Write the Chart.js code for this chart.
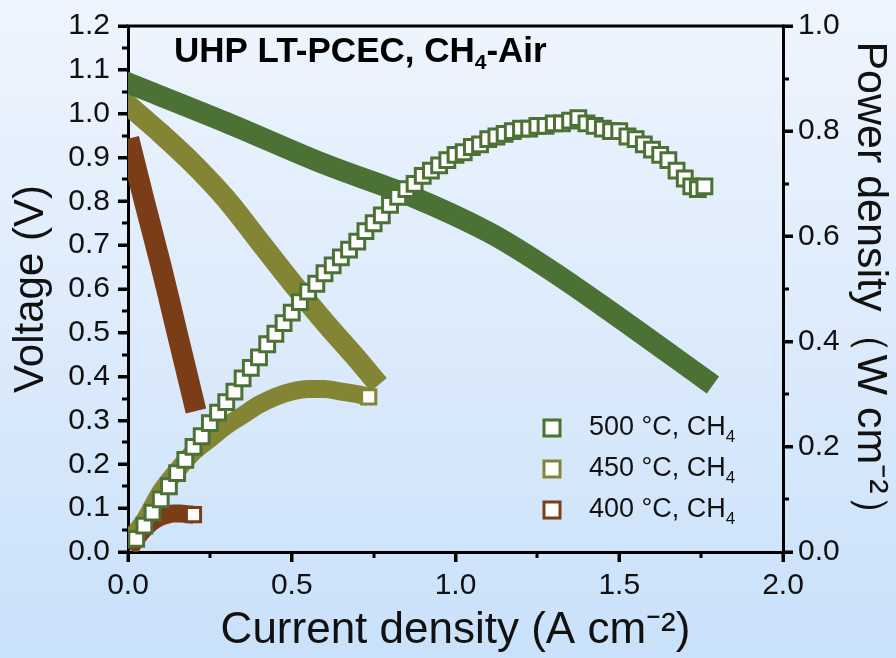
<!DOCTYPE html>
<html>
<head>
<meta charset="utf-8">
<script src="https://cdn.jsdelivr.net/npm/chart.js@4.4.0/dist/chart.umd.min.js"></script>
<style>
  html, body { margin: 0; padding: 0; }
  body { position: relative; width: 896px; height: 658px; background: linear-gradient(to bottom, #eef5fe 0%, #dbeafb 55%, #c9e1fa 100%); }
  canvas { display: block; }
  #marks { position: absolute; left: 0; top: 0; pointer-events: none; }
</style>
</head>
<body>
<canvas id="chart" width="896" height="658"></canvas>
<canvas id="marks" width="896" height="658"></canvas>
<script>
// current density (A cm-2) and voltage (V)
var jV500 = [0, 0.3, 0.6, 0.87, 1.1, 1.28, 1.48, 1.76];
var V500  = [1.07, 0.98, 0.885, 0.81, 0.73, 0.648, 0.545, 0.395];
var jV450 = [0, 0.1, 0.2, 0.3, 0.4, 0.5, 0.6, 0.7, 0.745];
var V450  = [1.02, 0.955, 0.885, 0.805, 0.71, 0.615, 0.525, 0.44, 0.40];
var jV400 = [0.01, 0.05, 0.1, 0.15, 0.2];
var V400  = [0.92, 0.80, 0.655, 0.50, 0.345];

// power density (W cm-2)
var jP500 = [0.025, 0.05, 0.075, 0.1, 0.125, 0.15, 0.175, 0.2, 0.225, 0.25, 0.275, 0.3, 0.325, 0.35, 0.375, 0.4,
  0.425, 0.45, 0.475, 0.5, 0.525, 0.55, 0.575, 0.6, 0.625, 0.65, 0.675, 0.7, 0.725, 0.75, 0.775, 0.8, 0.825, 0.85,
  0.875, 0.9, 0.925, 0.95, 0.975, 1.0, 1.025, 1.05, 1.075, 1.1, 1.125, 1.15, 1.175, 1.2, 1.225, 1.25, 1.275, 1.3,
  1.325, 1.35, 1.375, 1.4, 1.425, 1.45, 1.475, 1.5, 1.525, 1.55, 1.575, 1.6, 1.625, 1.65, 1.675, 1.7, 1.72, 1.74, 1.76];
var P500 = [0.025, 0.05, 0.075, 0.10, 0.125, 0.15, 0.175, 0.20, 0.22, 0.245, 0.265, 0.285, 0.305, 0.33, 0.35, 0.37,
  0.395, 0.415, 0.435, 0.455, 0.475, 0.495, 0.51, 0.53, 0.545, 0.56, 0.575, 0.59, 0.61, 0.625, 0.64, 0.66, 0.675, 0.69,
  0.70, 0.715, 0.725, 0.735, 0.745, 0.755, 0.76, 0.77, 0.775, 0.785, 0.79, 0.795, 0.80, 0.805, 0.805, 0.81, 0.81, 0.815,
  0.815, 0.82, 0.825, 0.815, 0.81, 0.805, 0.80, 0.80, 0.79, 0.785, 0.775, 0.765, 0.755, 0.745, 0.725, 0.71, 0.695, 0.69, 0.695];
var jP450 = [0, 0.05, 0.1, 0.15, 0.2, 0.25, 0.3, 0.35, 0.4, 0.45, 0.5, 0.55, 0.6, 0.65, 0.7, 0.735];
var P450  = [0.02, 0.06, 0.115, 0.155, 0.19, 0.215, 0.24, 0.26, 0.28, 0.295, 0.305, 0.31, 0.31, 0.305, 0.30, 0.295];
var jP400 = [0.005, 0.02, 0.04, 0.06, 0.08, 0.10, 0.12, 0.14, 0.16, 0.18, 0.20];
var P400  = [0.005, 0.02, 0.037, 0.05, 0.06, 0.067, 0.071, 0.073, 0.073, 0.072, 0.071];

var seriesNames = ['500 °C, CH', '450 °C, CH', '400 °C, CH'];
var seriesColors = ['#4b7135', '#838535', '#7b3c18'];

var xMajor = [0, 0.5, 1.0, 1.5, 2.0];
var xMinor = [0.25, 0.75, 1.25, 1.75];
var yMajor = [0, 0.1, 0.2, 0.3, 0.4, 0.5, 0.6, 0.7, 0.8, 0.9, 1.0, 1.1, 1.2];
var yMinor = [0.05, 0.15, 0.25, 0.35, 0.45, 0.55, 0.65, 0.75, 0.85, 0.95, 1.05, 1.15];
var y2Major = [0, 0.2, 0.4, 0.6, 0.8, 1.0];
var y2Minor = [0.1, 0.3, 0.5, 0.7, 0.9];

var FONT = "'Liberation Sans', Arial, Helvetica, sans-serif";

function pts(xs, ys) {
  return xs.map(function (x, i) { return { x: x, y: ys[i] }; });
}
function lastOnly(n, r) {
  var a = [];
  for (var i = 0; i < n; i++) a.push(i === n - 1 ? r : 0);
  return a;
}

var vLine = function (label, xs, ys, color, order) {
  return {
    label: label, data: pts(xs, ys), yAxisID: 'y', order: order, showLine: true,
    borderColor: color, borderWidth: 21, tension: 0.35, pointRadius: 0,
    borderCapStyle: 'square', borderJoinStyle: 'round', clip: 0
  };
};

var bandPower = function (label, xs, ys, color, order) {
  return {
    label: label, data: pts(xs, ys), yAxisID: 'y2', order: order, showLine: true,
    borderColor: color, borderWidth: 18, cubicInterpolationMode: 'monotone', borderCapStyle: 'butt',
    pointStyle: 'rect', pointRadius: lastOnly(xs.length, 10), pointBorderWidth: 3,
    pointBorderColor: color, pointBackgroundColor: '#ffffff', clip: 0
  };
};

var datasets = [
  {
    label: 'P500', data: pts(jP500, P500), yAxisID: 'y2', order: 0, showLine: false,
    pointStyle: 'rect', pointRadius: 10.5, pointBorderWidth: 3,
    pointBorderColor: seriesColors[0], pointBackgroundColor: '#ffffff', clip: 0
  },
  bandPower('P450', jP450, P450, seriesColors[1], 1),
  bandPower('P400', jP400, P400, seriesColors[2], 2),
  vLine('V500', jV500, V500, seriesColors[0], 3),
  vLine('V450', jV450, V450, seriesColors[1], 4),
  vLine('V400', jV400, V400, seriesColors[2], 5)
];

// tick marks and top frame, on a clean overlay canvas, placed with the chart's scales
var axisMarks = {
  id: 'axisMarks',
  afterDraw: function (chart) {
    var m = document.getElementById('marks').getContext('2d');
    var a = chart.chartArea, s = chart.scales;
    m.clearRect(0, 0, 896, 658);
    m.fillStyle = '#000';
    xMajor.forEach(function (v) { var p = s.x.getPixelForValue(v); m.fillRect(Math.round(p) - 1.5, a.bottom, 3, 10); });
    xMinor.forEach(function (v) { var p = s.x.getPixelForValue(v); m.fillRect(Math.round(p) - 1.5, a.bottom, 3, 6); });
    yMajor.forEach(function (v) { var p = s.y.getPixelForValue(v); m.fillRect(a.left - 10, Math.round(p) - 1.5, 10, 3); });
    yMinor.forEach(function (v) { var p = s.y.getPixelForValue(v); m.fillRect(a.left - 6, Math.round(p) - 1.5, 6, 3); });
    y2Major.forEach(function (v) { var p = s.y2.getPixelForValue(v); m.fillRect(a.right, Math.round(p) - 1.5, 10, 3); });
    y2Minor.forEach(function (v) { var p = s.y2.getPixelForValue(v); m.fillRect(a.right, Math.round(p) - 1.5, 6, 3); });
    m.fillRect(a.left - 1.5, a.top - 1.5, a.right - a.left + 3, 3);
  }
};

// note inside the plot and legend
var decorations = {
  id: 'decorations',
  afterDraw: function (chart) {
    var ctx = chart.ctx;
    ctx.save();
    ctx.fillStyle = '#000';
    ctx.textBaseline = 'alphabetic';
    ctx.font = 'bold 35px ' + FONT;
    var x = 174, y = 62;
    ctx.fillText('UHP LT-PCEC, CH', x, y);
    x += ctx.measureText('UHP LT-PCEC, CH').width;
    ctx.font = 'bold 21px ' + FONT;
    ctx.fillText('4', x, y + 7);
    x += ctx.measureText('4').width;
    ctx.font = 'bold 35px ' + FONT;
    ctx.fillText('-Air', x, y);

    var rows = [428, 469, 510];
    rows.forEach(function (ry, i) {
      ctx.lineWidth = 3;
      ctx.strokeStyle = seriesColors[i];
      ctx.fillStyle = '#ffffff';
      ctx.fillRect(544, ry - 8, 16, 16);
      ctx.strokeRect(544, ry - 8, 16, 16);
      ctx.fillStyle = '#111';
      ctx.font = '27px ' + FONT;
      ctx.textBaseline = 'middle';
      ctx.fillText(seriesNames[i], 589, ry);
      var w = ctx.measureText(seriesNames[i]).width;
      ctx.font = '17px ' + FONT;
      ctx.fillText('4', 589 + w, ry + 9);
    });
    ctx.restore();
  }
};

var tickFont = { family: FONT, size: 30 };
var titleFont = { family: FONT, size: 42 };
var gridOpts = { display: true, color: '#000', lineWidth: 3, drawOnChartArea: false, drawTicks: true, tickLength: 10, tickWidth: 3, tickColor: '#000' };

var ctx = document.getElementById('chart').getContext('2d');
var myChart = new Chart(ctx, {
  type: 'scatter',
  data: { datasets: datasets },
  plugins: [axisMarks, decorations],
  options: {
    responsive: false,
    animation: false,
    devicePixelRatio: 1,
    layout: { padding: { top: 22, left: 0, right: 0, bottom: 0 } },
    plugins: { legend: { display: false }, tooltip: { enabled: false } },
    scales: {
      x: {
        type: 'linear', min: 0, max: 2,
        afterFit: function (s) { s.height = 106; },
        ticks: { stepSize: 0.5, color: '#111', font: tickFont, padding: 6, maxRotation: 0,
          callback: function (v) { return v.toFixed(1); } },
        grid: gridOpts,
        border: { display: true, color: '#000', width: 3 },
        title: { display: true, text: 'Current density (A cm⁻²)', color: '#111', font: { family: FONT, size: 44 },
          padding: { top: 0, bottom: 1 } }
      },
      y: {
        type: 'linear', position: 'left', min: 0, max: 1.2,
        afterFit: function (s) { s.width = 128; },
        ticks: { stepSize: 0.1, color: '#111', font: tickFont, padding: 8,
          callback: function (v) { return v.toFixed(1); } },
        grid: gridOpts,
        border: { display: true, color: '#000', width: 3 },
        title: { display: true, text: 'Voltage (V)', color: '#111', font: titleFont,
          padding: { top: 6, bottom: 0 } }
      },
      y2: {
        type: 'linear', position: 'right', min: 0, max: 1.0,
        afterFit: function (s) { s.width = 113; },
        ticks: { stepSize: 0.2, color: '#111', font: tickFont, padding: 5,
          callback: function (v) { return v.toFixed(1); } },
        grid: gridOpts,
        border: { display: true, color: '#000', width: 3 },
        title: { display: true, text: 'Power density（W cm⁻²）', color: '#111', font: { family: FONT, size: 43 },
          padding: { top: 0, bottom: 0 } }
      }
    }
  }
});
</script>
</body>
</html>
